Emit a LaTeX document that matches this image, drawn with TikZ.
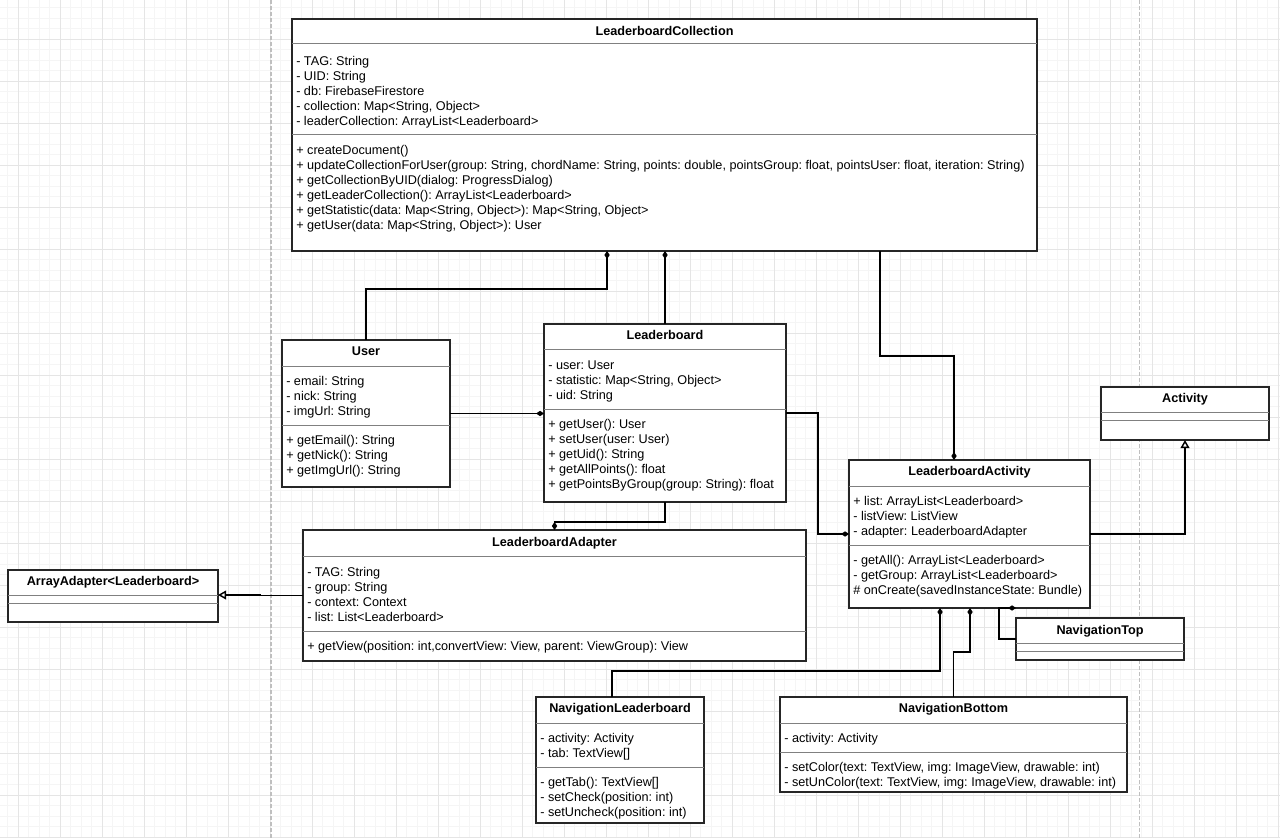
\documentclass[tikz,border=0pt]{standalone}
\usepackage{fontspec}
\setmainfont{Liberation Sans}
\frenchspacing
\usetikzlibrary{arrows.meta}

\begin{document}
\begin{tikzpicture}[x=0.75pt,y=0.75pt,yscale=-1,xscale=1,
  classbox/.style={draw=black!85,line width=1.3pt,fill=white,anchor=north west,inner sep=0pt,outer sep=0pt},
  divider/.style={draw=black!50,line width=0.75pt},
  header/.style={anchor=base,inner sep=0.75pt,font=\fontsize{9.5}{11.25}\selectfont\bfseries},
  member/.style={anchor=north west,inner sep=0.75pt,align=left,font=\fontsize{9.5}{11.25}\selectfont},
  comp/.style={draw=black,line width=1.1pt,-{Diamond[length=6pt,width=4pt]}},
  inherit/.style={draw=black,line width=1.1pt,-{Triangle[open,length=6pt,width=6.5pt,fill=white]}}]
%set diagram left start at 0, and has height of 838
\useasboundingbox (0,0) rectangle (1280,838);
\fill [white] (0,0) rectangle (1280,838);

%Grid
\draw [draw=black!4,line width=0.75pt,step=10.5,shift={(18.3,39.3)}] (-18.3,-39.3) grid (1261.7,798.7);
\draw [draw=black!10,line width=0.75pt,step=42,shift={(18.3,39.3)}] (-18.3,-39.3) grid (1261.7,798.7);
%Page breaks
\draw [draw=black!25,line width=0.9pt,dash pattern=on 3pt off 1.5pt] (271,0) -- (271,838);
\draw [draw=black!25,line width=0.9pt,dash pattern=on 3pt off 1.5pt] (1139.5,0) -- (1139.5,838);

%Shape: Class boxes
\draw (292,19) node (lbc) [classbox,minimum width=558.75pt,minimum height=174pt] {};
\draw (282,340) node (user) [classbox,minimum width=126pt,minimum height=110.25pt] {};
\draw (544,324) node (lb) [classbox,minimum width=181.5pt,minimum height=133.5pt] {};
\draw (303,530) node (lba) [classbox,minimum width=377.25pt,minimum height=98.25pt] {};
\draw (8,570) node (aad) [classbox,minimum width=157.5pt,minimum height=39pt] {};
\draw (1101,387) node (act) [classbox,minimum width=126pt,minimum height=39.75pt] {};
\draw (849,460) node (lbact) [classbox,minimum width=180.75pt,minimum height=111pt] {};
\draw (1016,618) node (navtop) [classbox,minimum width=126pt,minimum height=31.5pt] {};
\draw (536,697) node (navlb) [classbox,minimum width=126pt,minimum height=94.5pt] {};
\draw (780,697) node (navbot) [classbox,minimum width=260.25pt,minimum height=71.25pt] {};

%Straight Lines: dividers
\draw [divider] (292,44) -- (1037,44);
\draw [divider] (292,135) -- (1037,135);
\draw [divider] (282,366) -- (450,366);
\draw [divider] (282,425) -- (450,425);
\draw [divider] (544,349) -- (786,349);
\draw [divider] (544,409) -- (786,409);
\draw [divider] (303,556) -- (806,556);
\draw [divider] (303,631) -- (806,631);
\draw [divider] (8,595) -- (218,595);
\draw [divider] (8,603) -- (218,603);
\draw [divider] (1101,412) -- (1269,412);
\draw [divider] (1101,420) -- (1269,420);
\draw [divider] (849,486) -- (1090,486);
\draw [divider] (849,545) -- (1090,545);
\draw [divider] (1016,643) -- (1184,643);
\draw [divider] (1016,651) -- (1184,651);
\draw [divider] (536,723) -- (704,723);
\draw [divider] (536,767) -- (704,767);
\draw [divider] (780,723) -- (1127,723);
\draw [divider] (780,752) -- (1127,752);

%Connectors
\coordinate (kUser) at (607,289);
\draw [comp] (user.north) |- (kUser) -- (kUser |- lbc.south);
\draw [comp] (lb.north) -- (lb.north |- lbc.south);
\coordinate (kAct) at (880,356);
\coordinate (kAct2) at (954,356);
\draw [comp] (kAct |- lbc.south) -- (kAct) -- (kAct2) -- (kAct2 |- lbact.north);
\draw [comp] (user.east) -- (user.east -| lb.west);
\draw [comp] (lb.south) -- ++(0,20) -| (lba.north);
\draw [comp] (lb.east) -- ++(32,0) |- (lbact.west);
\draw [inherit] (lba.west) -- ++(-43,0) |- ([yshift=-0.75pt]aad.east);
\draw [inherit] (lbact.east) -| (act.south);
\coordinate (kNavL) at (940,671);
\draw [comp] ([xshift=-6pt]navlb.north) |- (kNavL) -- (kNavL |- lbact.south);
\coordinate (kNavB) at (970,652);
\draw [comp] (navbot.north) |- (kNavB) -- (kNavB |- lbact.south);
\coordinate (kNavT) at (999,639);
\draw [comp] (navtop.west) -- (kNavT) -- (kNavT |- lbact.south) -- (navtop.west |- lbact.south);

% Text Node
\draw (664.5,35.3) node (lbcTitle) [header] {LeaderboardCollection};
% Text Node
\draw (295,55.5) node (lbcAttr) [member] {- TAG: String\\- UID: String\\- db: FirebaseFirestore\\- collection: Map<String, Object>\\- leaderCollection: ArrayList<Leaderboard>};
% Text Node
\draw (295,144.5) node (lbcOps) [member] {+ createDocument()\\+ updateCollectionForUser(group: String, chordName: String, points: double, pointsGroup: float, pointsUser: float, iteration: String)\\+ getCollectionByUID(dialog: ProgressDialog)\\+ getLeaderCollection(): ArrayList<Leaderboard>\\+ getStatistic(data: Map<String, Object>): Map<String, Object>\\+ getUser(data: Map<String, Object>): User};
% Text Node
\draw (366,355.3) node (userTitle) [header] {User};
% Text Node
\draw (285,375.5) node (userAttr) [member] {- email: String\\- nick: String\\- imgUrl: String};
% Text Node
\draw (285,434.5) node (userOps) [member] {+ getEmail(): String\\+ getNick(): String\\+ getImgUrl(): String};
% Text Node
\draw (665,339.3) node (lbTitle) [header] {Leaderboard};
% Text Node
\draw (547,359.5) node (lbAttr) [member] {- user: User\\- statistic: Map<String, Object>\\- uid: String};
% Text Node
\draw (547,418.5) node (lbOps) [member] {+ getUser(): User\\+ setUser(user: User)\\+ getUid(): String\\+ getAllPoints(): float\\+ getPointsByGroup(group: String): float};
% Text Node
\draw (554.5,546.3) node (lbaTitle) [header] {LeaderboardAdapter};
% Text Node
\draw (306,566.5) node (lbaAttr) [member] {- TAG: String\\- group: String\\- context: Context\\- list: List<Leaderboard>};
% Text Node
\draw (306,640.5) node (lbaOps) [member] {+ getView(position: int,convertView: View, parent: ViewGroup): View};
% Text Node
\draw (113,585.3) node (aadTitle) [header] {ArrayAdapter<Leaderboard>};
% Text Node
\draw (1185,402.3) node (actTitle) [header] {Activity};
% Text Node
\draw (969.5,475.3) node (lbactTitle) [header] {LeaderboardActivity};
% Text Node
\draw (852,495.5) node (lbactAttr) [member] {+ list: ArrayList<Leaderboard>\\- listView: ListView\\- adapter: LeaderboardAdapter};
% Text Node
\draw (852,554.5) node (lbactOps) [member] {- getAll(): ArrayList<Leaderboard>\\- getGroup: ArrayList<Leaderboard>\\\# onCreate(savedInstanceState: Bundle)};
% Text Node
\draw (1100,634.3) node (navtopTitle) [header] {NavigationTop};
% Text Node
\draw (620,712.3) node (navlbTitle) [header] {NavigationLeaderboard};
% Text Node
\draw (539,732.5) node (navlbAttr) [member] {- activity: Activity\\- tab: TextView[]};
% Text Node
\draw (539,776.5) node (navlbOps) [member] {- getTab(): TextView[]\\- setCheck(position: int)\\- setUncheck(position: int)};
% Text Node
\draw (953.5,712.3) node (navbotTitle) [header] {NavigationBottom};
% Text Node
\draw (783,732.5) node (navbotAttr) [member] {- activity: Activity};
% Text Node
\draw (783,761.5) node (navbotOps) [member] {- setColor(text: TextView, img: ImageView, drawable: int)\\- setUnColor(text: TextView, img: ImageView, drawable: int)};

\end{tikzpicture}
\end{document}
